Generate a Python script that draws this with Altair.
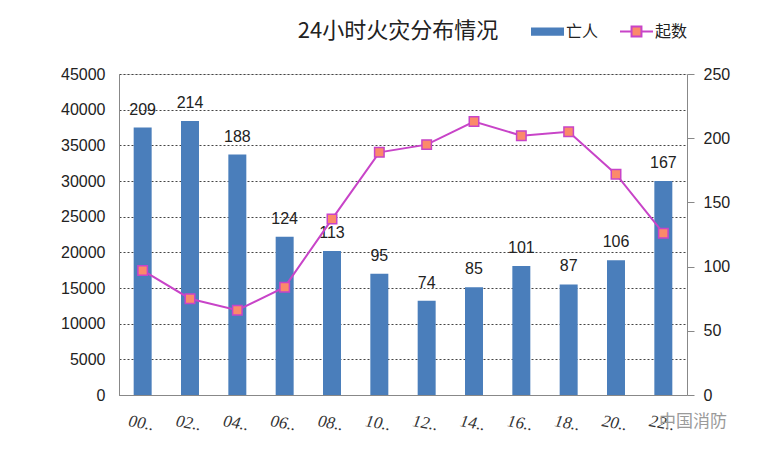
import altair as alt
import pandas as pd

hours = ["00..", "02..", "04..", "06..", "08..", "10..", "12..", "14..", "16..", "18..", "20..", "22.."]
bar_vals = [37500, 38400, 33700, 22200, 20200, 17000, 13200, 15100, 18100, 15500, 18900, 30000]
bar_labels = [209, 214, 188, 124, 113, 95, 74, 85, 101, 87, 106, 167]
line_vals = [97, 75, 66, 84, 137, 189, 195, 213, 202, 205, 172, 126]
title_text = "24小时火灾分布情况"
watermark_text = "中国消防"

df = pd.DataFrame({
    "hour": hours,
    "bar": bar_vals,
    "label": bar_labels,
    "line": line_vals,
    "s1": ["亡人"] * 12,
    "s2": ["起数"] * 12,
})

BLUE = "#4a7ebb"
MAG = "#c844c8"
ORANGE = "#fb8a6a"

x = alt.X("hour:N", sort=hours, title=None,
          scale=alt.Scale(paddingInner=0.62, paddingOuter=0.31),
          axis=alt.Axis(labelAngle=10, labelFont="Liberation Serif", labelFontStyle="italic",
                        labelFontSize=17, labelColor="#333", labelPadding=20, ticks=False,
                        domainColor="#888", labelAlign="center", labelBaseline="top"))

yl = alt.Y("bar:Q", title=None,
           scale=alt.Scale(domain=[0, 45000]),
           axis=alt.Axis(values=list(range(0, 45001, 5000)), grid=True, gridDash=[2, 2],
                         gridColor="#444", gridWidth=1, ticks=False, labelPadding=14,
                         domainColor="#888", labelFont="Liberation Sans", labelFontSize=16,
                         labelColor="#222", format="d"))

bars = alt.Chart(df).mark_bar().encode(
    x=x, y=yl,
    fill=alt.Fill("s1:N", scale=alt.Scale(domain=["亡人"], range=[BLUE]),
                  legend=alt.Legend(title=None, orient="none", legendX=411, legendY=-60,
                                    symbolType="M-1,-0.25H1V0.25H-1Z", symbolSize=1089,
                                    labelFont="Noto Sans CJK SC", labelFontSize=16,
                                    labelColor="#222", labelOffset=1, padding=0)),
)

texts = alt.Chart(df).mark_text(baseline="bottom", dy=-10, fontSize=16,
                                font="Liberation Sans", color="#222").encode(
    x=x, y=yl, text="label:Q")

left = alt.layer(bars, texts)

yr = alt.Y("line:Q", title=None,
           scale=alt.Scale(domain=[0, 250]),
           axis=alt.Axis(orient="right", values=list(range(0, 251, 50)), grid=False,
                         tickSize=7, tickColor="#888", domainColor="#888", labelPadding=9,
                         labelFont="Liberation Sans", labelFontSize=16, labelColor="#222"))

line = alt.Chart(df).mark_line(strokeWidth=2).encode(
    x=x, y=yr,
    stroke=alt.Stroke("s2:N", scale=alt.Scale(domain=["起数"], range=[MAG]),
                      legend=alt.Legend(title=None, orient="none", legendX=500, legendY=-60,
                                        symbolType="M-1,0H-0.3M0.3,0H1M-0.3,-0.3H0.3V0.3H-0.3Z",
                                        symbolSize=1089, symbolStrokeWidth=2,
                                        symbolFillColor=ORANGE,
                                        labelFont="Noto Sans CJK SC", labelFontSize=16,
                                        labelColor="#222", labelOffset=1, padding=0)),
)

pts = alt.Chart(df).mark_point(shape="square", size=90, filled=True, fill=ORANGE,
                               stroke=MAG, strokeWidth=1.5, opacity=1).encode(
    x=x, y=yr)

right = alt.layer(line, pts)

wm = pd.DataFrame({"t": [watermark_text]})
watermark = alt.Chart(wm).mark_text(font="Noto Sans CJK SC", fontSize=17, color="#9a9a9a",
                                    align="center", baseline="middle").encode(
    x=alt.value(574), y=alt.value(348), text="t:N")

tt = pd.DataFrame({"t": [title_text]})
title = alt.Chart(tt).mark_text(font="Noto Sans CJK SC", fontSize=22, color="#222",
                                align="center", baseline="middle").encode(
    x=alt.value(279), y=alt.value(-43), text="t:N")

chart = alt.layer(left, right, watermark, title).resolve_scale(
    y="independent", fill="independent", stroke="independent"
).properties(
    width=568, height=321,
    autosize=alt.AutoSizeParams(type="none"),
    padding={"left": 111, "top": 66, "right": 62, "bottom": 40},
).configure_view(stroke="#888", strokeWidth=1).configure(background="white")

chart.save("out.html", embed_options={"renderer": "svg", "actions": False})
